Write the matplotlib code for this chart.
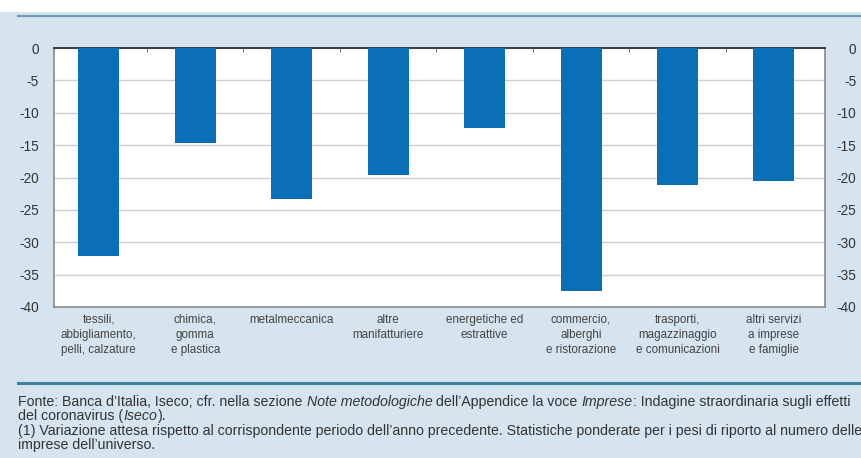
import matplotlib
matplotlib.use("Agg")
import matplotlib.pyplot as plt
from matplotlib.lines import Line2D
from matplotlib.patches import Rectangle
import numpy as np

plt.rcParams['font.family'] = ['Liberation Sans', 'DejaVu Sans']

settori = [
    "tessili,\nabbigliamento,\npelli, calzature",
    "chimica,\ngomma\ne plastica",
    "metalmeccanica",
    "altre\nmanifatturiere",
    "energetiche ed\nestrattive",
    "commercio,\nalberghi\ne ristorazione",
    "trasporti,\nmagazzinaggio\ne comunicazioni",
    "altri servizi\na imprese\ne famiglie",
]
variazione = [-32.2, -14.7, -23.3, -19.6, -12.3, -37.6, -21.1, -20.6]
y_ticks = [0, -5, -10, -15, -20, -25, -30, -35, -40]

# footer lines, each a list of (text, italic) segments
note = [
    [("Fonte: Banca d\u2019Italia, Iseco; cfr. nella sezione ", False),
     ("Note metodologiche", True),
     (" dell\u2019Appendice la voce ", False),
     ("Imprese", True),
     (": Indagine straordinaria sugli effetti", False)],
    [("del coronavirus (", False), ("Iseco", True), (").", False)],
    [("(1) Variazione attesa rispetto al corrispondente periodo dell\u2019anno precedente. "
      "Statistiche ponderate per i pesi di riporto al numero delle", False)],
    [("imprese dell\u2019universo.", False)],
]

BG = '#d5e4ee'
BAR = '#0b6fb8'
LINE = '#3f7f9f'
TXT = '#333333'

W, H = 861, 458
fig = plt.figure(figsize=(W / 100, H / 100), dpi=100)
fig.patch.set_facecolor(BG)

# white strip above the panel
fig.add_artist(Rectangle((0, 1 - 12 / H), 1, 12 / H, transform=fig.transFigure,
                         facecolor='white', edgecolor='none', zorder=0))
fig.add_artist(Line2D([18 / W, 1], [1 - 15.5 / H] * 2, transform=fig.transFigure,
                      color='#6f9cb8', lw=1.6))
fig.add_artist(Line2D([18 / W, 1], [1 - 382.5 / H] * 2, transform=fig.transFigure,
                      color=LINE, lw=2.2))

left, right, top, bottom = 53.5, 825, 48, 307
ax = fig.add_axes([left / W, 1 - bottom / H, (right - left) / W, (bottom - top) / H])
ax.set_facecolor('white')

x = np.arange(len(settori))
ax.bar(x, variazione, width=0.425, color=BAR, zorder=3)

ax.set_xlim(-0.47, len(settori) - 0.47)
ax.set_ylim(-40, 0)
ax.set_yticks(y_ticks)
ax.set_yticklabels([str(v) for v in y_ticks])
ax.yaxis.grid(True, color='#d0d0d0', lw=1, zorder=0)
ax.tick_params(axis='y', length=0, pad=10.5, labelsize=9.8, labelcolor=TXT)

ax.set_xticks(x)
ax.set_xticklabels(settori, fontsize=8.4, color='#444444', linespacing=1.32)
ax.set_xticks(np.arange(0.5, len(settori) - 1), minor=True)
ax.tick_params(axis='x', which='major', length=0, pad=5)
ax.tick_params(axis='x', which='minor', bottom=False, top=True, direction='in',
               length=3, color='#555555')

for side, sp in ax.spines.items():
    sp.set_color('#222222' if side == 'top' else '#8a8a8a')
    sp.set_linewidth(1.2)

# right-hand scale, same values, right-aligned
ax2 = ax.twinx()
ax2.set_ylim(-40, 0)
ax2.set_yticks(y_ticks)
ax2.set_yticklabels([str(v) for v in y_ticks])
ax2.tick_params(axis='y', length=0, pad=22.5, labelsize=9.8, labelcolor=TXT)
for lab in ax2.get_yticklabels():
    lab.set_horizontalalignment('right')
for sp in ax2.spines.values():
    sp.set_visible(False)

# footer notes, italic parts drawn as separate pieces
fig.canvas.draw()
renderer = fig.canvas.get_renderer()
y_px = 402
for riga in note:
    x_px = 18.5
    for testo, corsivo in riga:
        t = fig.text(x_px / W, 1 - y_px / H, testo, fontsize=10.2, color=TXT,
                     style='italic' if corsivo else 'normal', va='center', ha='left')
        x_px += t.get_window_extent(renderer).width
    y_px += 14.4

fig.savefig('out.png', dpi=100, facecolor=fig.get_facecolor())
